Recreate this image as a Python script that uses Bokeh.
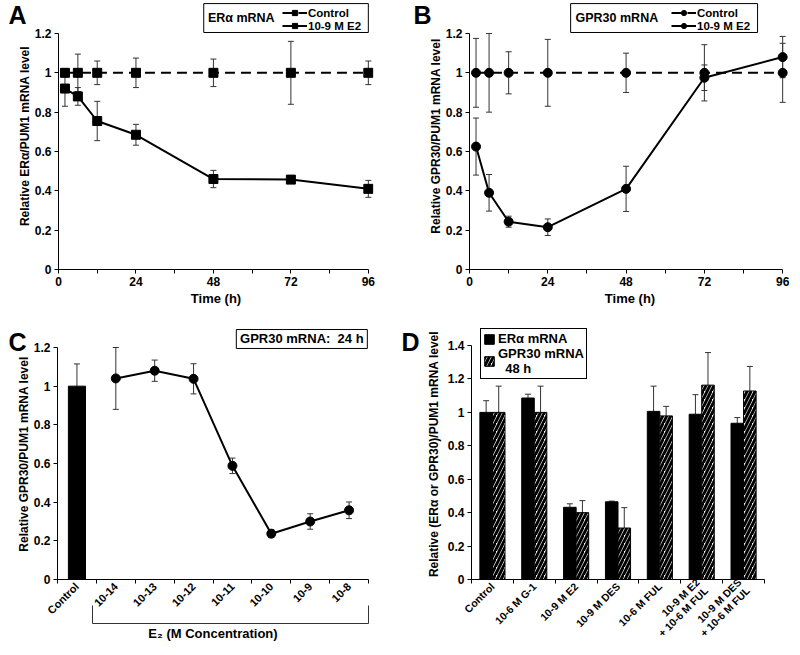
import math
from bokeh.plotting import figure
from bokeh.models import (ColumnDataSource, Range1d, FixedTicker, LinearAxis, Whisker, TeeHead,
                          Legend, LegendItem, Label, BoxAnnotation, NumeralTickFormatter)
from bokeh.layouts import column, row
from bokeh.embed import file_html
from bokeh.resources import INLINE

FONT = "Liberation Sans"
ERR_COLOR = "#333333"

# ---------------- data ----------------
# Panel A: ER-alpha mRNA time course
time_h = [2, 6, 12, 24, 48, 72, 96]
a_control = [1.0, 1.0, 1.0, 1.0, 1.0, 1.0, 1.0]
a_control_err = [0.02, 0.095, 0.06, 0.075, 0.07, 0.16, 0.06]
a_e2 = [0.92, 0.88, 0.755, 0.685, 0.46, 0.457, 0.41]
a_e2_err = [0.09, 0.045, 0.10, 0.053, 0.044, 0.015, 0.043]

# Panel B: GPR30 mRNA time course
b_control = [1.0, 1.0, 1.0, 1.0, 1.0, 1.0, 1.0]
b_control_err = [0.175, 0.2, 0.107, 0.17, 0.1, 0.143, 0.15]
b_e2 = [0.625, 0.39, 0.243, 0.215, 0.41, 0.975, 1.08]
b_e2_err = [0.145, 0.093, 0.028, 0.042, 0.115, 0.065, 0.105]

# Panel C: GPR30 mRNA 24 h, E2 dose response
c_categories = ["Control", "10-14", "10-13", "10-12", "10-11", "10-10", "10-9", "10-8"]
c_control = [1.0]
c_control_err = [0.115]
c_e2 = [1.04, 1.08, 1.038, 0.588, 0.237, 0.30, 0.358]
c_e2_err = [0.16, 0.055, 0.078, 0.04, 0.02, 0.04, 0.043]

# Panel D: 48 h treatments
d_categories = ["Control", "10-6 M G-1", "10-9 M E2", "10-9 M DES", "10-6 M FUL",
                "10-9 M E2\n+ 10-6 M FUL", "10-9 M DES\n+ 10-6 M FUL"]
d_era = [1.0, 1.086, 0.432, 0.465, 1.006, 0.989, 0.935]
d_era_err = [0.07, 0.023, 0.021, 0.004, 0.151, 0.117, 0.034]
d_gpr = [1.0, 1.0, 0.40, 0.308, 0.979, 1.163, 1.128]
d_gpr_err = [0.157, 0.157, 0.072, 0.122, 0.057, 0.195, 0.147]


# ---------------- helpers ----------------
def make_fig(height, x_end, y_end, left, right, top, bottom):
    p = figure(width=400, height=height, x_range=Range1d(0, x_end), y_range=Range1d(0, y_end),
               output_backend="svg", toolbar_location=None,
               min_border_left=left, min_border_right=right,
               min_border_top=top, min_border_bottom=bottom)
    p.outline_line_color = None
    p.xgrid.visible = False
    p.ygrid.visible = False
    p.background_fill_color = "white"
    p.border_fill_color = "white"
    return p


def style_axis(ax, label_size="12px", title_size="12px"):
    ax.axis_line_color = "black"
    ax.axis_line_width = 1
    ax.major_tick_line_color = "black"
    ax.major_tick_out = 4
    ax.major_tick_in = 0
    ax.minor_tick_line_color = None
    ax.major_label_text_font = FONT
    ax.major_label_text_font_style = "bold"
    ax.major_label_text_font_size = label_size
    ax.major_label_text_color = "black"
    ax.axis_label_text_font = FONT
    ax.axis_label_text_font_style = "bold"
    ax.axis_label_text_font_size = title_size
    ax.axis_label_text_color = "black"
    ax.major_label_standoff = 3
    ax.axis_label_standoff = 3


def y_axis(p, top_tick, label, standoff=0):
    ax = p.yaxis[0]
    style_axis(ax)
    n = int(round(top_tick / 0.2))
    ax.ticker = FixedTicker(ticks=[round(0.2 * i, 1) for i in range(n + 1)])
    ax.formatter = NumeralTickFormatter(format="0.[0]")
    ax.bounds = (0, top_tick)
    ax.axis_label = label
    ax.axis_label_standoff = standoff


def whisker(p, src, lower="lo", upper="hi", both=True):
    head = dict(size=6, line_color=ERR_COLOR, line_width=1)
    w = Whisker(source=src, base="x", lower=lower, upper=upper,
                line_color=ERR_COLOR, line_width=1,
                upper_head=TeeHead(**head),
                lower_head=TeeHead(**head) if both else None)
    p.add_layout(w)


def letter(p, x, text, side):
    p.add_layout(Label(x=x, y=0, x_units="canvas", y_units="canvas", text=text,
                       text_font=FONT, text_font_style="bold", text_font_size="25px",
                       text_baseline="top", text_align="left", text_color="black"), side)


def box_title(p, left, right, bottom, top, text, tx, ty, size="12px", align="left"):
    p.add_layout(BoxAnnotation(left=left, right=right, bottom=bottom, top=top,
                               fill_color="white", fill_alpha=1, line_color="black",
                               line_alpha=1, line_width=1))
    p.add_layout(Label(x=tx, y=ty, text=text, text_font=FONT, text_font_style="bold",
                       text_font_size=size, text_baseline="middle", text_align=align,
                       text_color="black"))


def time_panel(ctrl, ctrl_err, e2, e2_err, marker, ylabel, title, letter_txt,
               left, right, x_end, box_lr, title_x, legend_x, letter_x, letter_side):
    y_end = 1.3575
    p = make_fig(327, x_end, y_end, left, right, 2, 58)
    xa = p.xaxis[0]
    style_axis(xa, title_size="13px")
    xa.ticker = FixedTicker(ticks=[0, 24, 48, 72, 96], minor_ticks=[12, 36, 60, 84])
    xa.minor_tick_line_color = "black"
    xa.minor_tick_out = 4
    xa.minor_tick_in = 0
    xa.bounds = (0, 96)
    xa.axis_label = "Time (h)"
    xa.axis_label_standoff = 2
    y_axis(p, 1.2, ylabel)

    cs = ColumnDataSource(dict(x=time_h, y=ctrl,
                               lo=[v - e for v, e in zip(ctrl, ctrl_err)],
                               hi=[v + e for v, e in zip(ctrl, ctrl_err)]))
    es = ColumnDataSource(dict(x=time_h, y=e2,
                               lo=[v - e for v, e in zip(e2, e2_err)],
                               hi=[v + e for v, e in zip(e2, e2_err)]))
    whisker(p, cs)
    whisker(p, es)
    c_line = p.line("x", "y", source=cs, line_color="black", line_width=2, line_dash="10 6")
    c_pts = p.scatter("x", "y", source=cs, marker=marker, size=9, color="black")
    e_line = p.line("x", "y", source=es, line_color="black", line_width=2)
    e_pts = p.scatter("x", "y", source=es, marker=marker, size=9, color="black")

    box_title(p, box_lr[0], box_lr[1], 1.205, 1.352, title, title_x, 1.2785, size="12.5px")
    leg = Legend(items=[LegendItem(label="Control", renderers=[c_line, c_pts]),
                        LegendItem(label="10-9 M E2", renderers=[e_line, e_pts])],
                 location=(legend_x, 237), orientation="vertical",
                 border_line_color=None, background_fill_alpha=0,
                 padding=1, spacing=0, margin=0, glyph_width=25, glyph_height=13,
                 label_height=13, label_standoff=1,
                 label_text_font=FONT, label_text_font_style="bold",
                 label_text_font_size="11.5px", label_text_color="black")
    p.add_layout(leg)
    letter(p, letter_x, letter_txt, letter_side)
    return p


# ---------------- panel A ----------------
pA = time_panel(a_control, a_control_err, a_e2, a_e2_err, "square",
                "Relative ER\u03b1/PUM1 mRNA level", "ER\u03b1 mRNA", "A",
                left=58, right=27, x_end=97.6, box_lr=(45, 96), title_x=46.3,
                legend_x=224, letter_x=8, letter_side="right")

# ---------------- panel B ----------------
pB = time_panel(b_control, b_control_err, b_e2, b_e2_err, "circle",
                "Relative GPR30/PUM1 mRNA level", "GPR30 mRNA", "B",
                left=69, right=10, x_end=98.4, box_lr=(31.0, 88.3), title_x=32.5,
                legend_x=202, letter_x=13, letter_side="left")

# ---------------- panel C ----------------
pC = make_fig(328, 8, 1.2983, 57, 32, 1, 66)
xc = [i + 0.5 for i in range(len(c_categories))]
xa = pC.xaxis[0]
style_axis(xa, label_size="11px")
xa.ticker = FixedTicker(ticks=xc, minor_ticks=list(range(len(c_categories) + 1)))
xa.major_label_overrides = {x: lab for x, lab in zip(xc, c_categories)}
xa.major_label_orientation = math.pi / 4
xa.major_tick_line_color = None
xa.minor_tick_line_color = "black"
xa.minor_tick_out = 4
xa.minor_tick_in = 0
xa.major_label_standoff = 1
y_axis(pC, 1.2, "Relative GPR30/PUM1 mRNA level")

bar_src = ColumnDataSource(dict(x=xc[:1], top=c_control,
                                lo=c_control,
                                hi=[v + e for v, e in zip(c_control, c_control_err)]))
pC.vbar(x="x", top="top", width=0.44, source=bar_src, fill_color="black", line_color="black")
whisker(pC, bar_src, both=False)
ls = ColumnDataSource(dict(x=xc[1:], y=c_e2,
                           lo=[v - e for v, e in zip(c_e2, c_e2_err)],
                           hi=[v + e for v, e in zip(c_e2, c_e2_err)]))
whisker(pC, ls)
pC.line("x", "y", source=ls, line_color="black", line_width=2)
pC.scatter("x", "y", source=ls, marker="circle", size=9, color="black")

bracket = LinearAxis(ticker=FixedTicker(ticks=[0.9, 8.0]), bounds=(0.9, 8.0))
style_axis(bracket, label_size="0px", title_size="13px")
bracket.major_label_overrides = {0.9: "", 8.0: ""}
bracket.major_tick_in = 18
bracket.major_tick_out = 0
bracket.major_tick_line_color = ERR_COLOR
bracket.axis_line_color = ERR_COLOR
bracket.major_label_standoff = 0
bracket.axis_label = "E\u2082 (M Concentration)"
bracket.axis_label_standoff = 2
pC.add_layout(bracket, "below")

box_title(pC, 4.6, 7.97, 1.195, 1.293, "GPR30 mRNA:\u00a0 24 h", 6.285, 1.244, size="13px",
          align="center")
letter(pC, 8, "C", "right")

# ---------------- panel D ----------------
pD = make_fig(328, 7, 1.502, 71, 36, 1, 76)
xd = [i + 0.5 for i in range(len(d_categories))]
xa = pD.xaxis[0]
style_axis(xa, label_size="10.5px")
xa.ticker = FixedTicker(ticks=xd, minor_ticks=list(range(len(d_categories) + 1)))
xa.major_label_overrides = {x: lab for x, lab in zip(xd, d_categories)}
xa.major_label_orientation = math.pi / 4
xa.major_label_text_line_height = 1.0
xa.major_tick_line_color = None
xa.minor_tick_line_color = "black"
xa.minor_tick_out = 4
xa.minor_tick_in = 0
xa.major_label_standoff = 1
y_axis(pD, 1.4, "Relative (ER\u03b1 or GPR30)/PUM1 mRNA level", standoff=4)

era_src = ColumnDataSource(dict(x=[x - 0.15 for x in xd], top=d_era, lo=d_era,
                                hi=[v + e for v, e in zip(d_era, d_era_err)]))
gpr_src = ColumnDataSource(dict(x=[x + 0.15 for x in xd], top=d_gpr, lo=d_gpr,
                                hi=[v + e for v, e in zip(d_gpr, d_gpr_err)]))
whisker(pD, era_src, both=False)
whisker(pD, gpr_src, both=False)
r_era = pD.vbar(x="x", top="top", width=0.3, source=era_src, fill_color="black",
                line_color="black")
r_gpr = pD.vbar(x="x", top="top", width=0.3, source=gpr_src, fill_color="white",
                line_color="black", hatch_pattern="/", hatch_color="black",
                hatch_scale=8, hatch_weight=3)
legD = Legend(items=[LegendItem(label="ER\u03b1 mRNA", renderers=[r_era]),
                     LegendItem(label="GPR30 mRNA\n\u00a0\u00a048 h", renderers=[r_gpr])],
              location=(9, 200), orientation="vertical",
              border_line_color="black", border_line_width=1, border_line_alpha=1,
              background_fill_color="white", background_fill_alpha=1,
              padding=2, spacing=0, margin=0, glyph_width=12, glyph_height=12,
              label_height=12, label_standoff=3,
              label_text_font=FONT, label_text_font_style="bold",
              label_text_font_size="13px", label_text_color="black")
pD.add_layout(legD)
letter(pD, 1, "D", "left")

layout = column(row(pA, pB), row(pC, pD))
open("out.html", "w").write(file_html(layout, INLINE))
